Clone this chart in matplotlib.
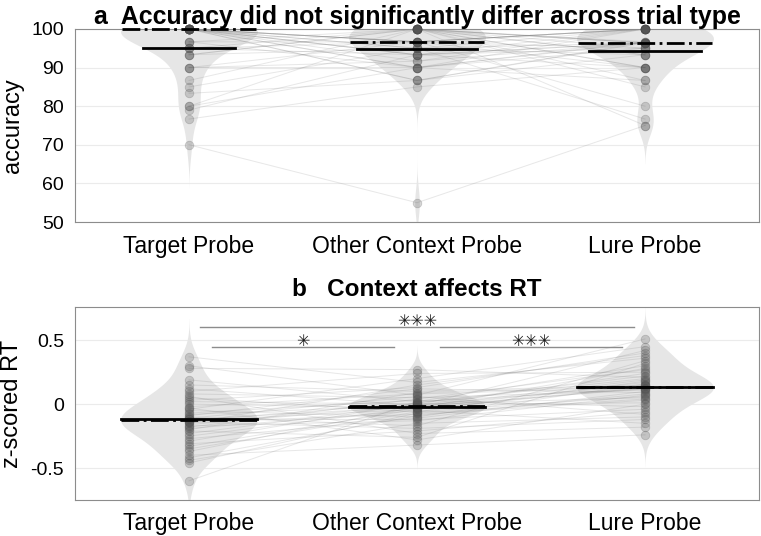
import numpy as np
import matplotlib
matplotlib.use("Agg")
import matplotlib.pyplot as plt

plt.rcParams['font.family'] = ['Liberation Sans', 'DejaVu Sans']

conditions = ["Target Probe", "Other Context Probe", "Lure Probe"]

# accuracy (%) per subject, same subject order in every list
acc_target = [100, 100, 100, 100, 100, 100, 100, 100, 100, 100, 100, 100,
              100, 100, 100, 100, 100, 100, 100, 100, 100, 100, 100, 100,
              100, 100, 100, 100, 96.67, 96.67, 96.67, 95, 95, 95, 93.33, 93.33,
              93.33, 90, 90, 90, 86.67, 85, 83.33, 80, 80, 79, 76.67, 70]
acc_other = [100, 100, 96.67, 100, 93.33, 100, 96.67, 90, 100, 95, 100, 96.67,
             86.67, 100, 93.33, 100, 96.67, 91.67, 100, 90, 100, 95, 96.67, 100,
             86.67, 100, 93.33, 100, 96.67, 100, 90, 100, 96.67, 93.33, 100, 95,
             100, 90, 96.67, 91.67, 100, 95, 86.67, 90, 100, 93.33, 85, 55]
acc_lure = [100, 96.4, 100, 100, 96.4, 90, 100, 96.67, 100, 96.4, 93.33, 100,
            96.4, 85, 100, 96.4, 80, 100, 95, 96.4, 100, 76.67, 100, 93.33,
            96.67, 100, 90, 75, 100, 96.4, 95, 100, 90, 96.4, 100, 93.33,
            86.67, 100, 95, 96.4, 90, 100, 93.33, 86.67, 96.67, 95, 90, 75]

# z-scored RT per subject
rt_target = [0.37, 0.30, 0.28, 0.19, 0.15, 0.12, 0.10, 0.08, 0.05, 0.03, 0.02, 0.00,
             -0.02, -0.04, -0.05, -0.07, -0.08, -0.09, -0.10, -0.11, -0.12, -0.13, -0.13, -0.14,
             -0.15, -0.16, -0.17, -0.18, -0.19, -0.20, -0.21, -0.23, -0.25, -0.27, -0.29, -0.31,
             -0.33, -0.35, -0.37, -0.40, -0.42, -0.44, -0.46, -0.03, -0.12, -0.14, 0.06, -0.60]
rt_other = [0.17, 0.07, 0.27, 0.02, 0.10, -0.01, 0.24, 0.05, -0.06, 0.13, 0.00, -0.03,
            0.08, 0.20, -0.10, 0.03, -0.01, 0.12, -0.17, 0.06, -0.02, -0.04, 0.01, -0.08,
            0.15, -0.01, -0.13, 0.04, -0.05, 0.09, -0.26, 0.00, -0.03, -0.11, 0.01, -0.21,
            -0.04, -0.06, -0.02, -0.32, -0.09, -0.15, -0.07, -0.28, -0.12, -0.19, -0.23, 0.02]
rt_lure = [0.36, 0.51, 0.21, 0.30, 0.15, 0.42, 0.25, 0.11, 0.18, 0.40, 0.05, 0.28,
           0.13, 0.45, 0.16, -0.02, 0.24, 0.09, 0.34, -0.08, 0.19, 0.13, 0.22, 0.03,
           0.38, 0.15, 0.07, 0.27, -0.15, 0.14, 0.32, 0.01, 0.17, 0.10, 0.20, -0.06,
           0.14, 0.06, 0.12, -0.24, 0.08, -0.10, 0.04, 0.00, -0.04, -0.12, -0.18, 0.12]

# significance bars for panel b: (from, to, y, label)
sig_bars = [(1.05, 2.95, 0.60, "\u2733\u2733\u2733"),
            (1.10, 1.90, 0.45, "\u2733"),
            (2.10, 2.90, 0.45, "\u2733\u2733\u2733")]


def kde(vals, grid):
    vals = np.asarray(vals, float)
    bw = 1.06 * vals.std(ddof=1) * len(vals) ** (-0.2)
    d = np.exp(-0.5 * ((grid[:, None] - vals[None, :]) / bw) ** 2).sum(axis=1)
    return d / (len(vals) * bw * np.sqrt(2 * np.pi)), bw


def violin_panel(ax, data):
    for i, vals in enumerate(data):
        x0 = i + 1
        vals = np.asarray(vals, float)
        _, bw = kde(vals, np.array([0.0]))
        grid = np.linspace(vals.min() - 3 * bw, vals.max() + 3 * bw, 400)
        dens, _ = kde(vals, grid)
        half = dens / dens.max() * 0.3
        ax.fill_betweenx(grid, x0 - half, x0 + half, color="#e6e6e6", lw=0, zorder=1)
        mean, med = vals.mean(), np.median(vals)
        wm = np.interp(mean, grid, half)
        wd = np.interp(med, grid, half)
        ax.plot([x0 - wd, x0 + wd], [med, med], color="black", lw=2, ls="-.",
                zorder=5, clip_on=False)
        ax.plot([x0 - wm, x0 + wm], [mean, mean], color="black", lw=2,
                zorder=5, clip_on=False)

    arr = np.array(data, float)
    xs = np.arange(1, len(data) + 1)
    for s in range(arr.shape[1]):
        ax.plot(xs, arr[:, s], color="0.45", alpha=0.17, lw=0.7, zorder=2)
    for i in range(arr.shape[0]):
        ax.scatter(np.full(arr.shape[1], xs[i]), arr[i], s=38, color="0.33",
                   alpha=0.24, edgecolors="0.3", linewidths=0.6, zorder=3,
                   clip_on=False)

    ax.set_xlim(0.5, 3.5)
    ax.set_xticks(xs)
    ax.set_xticklabels(conditions)
    ax.tick_params(axis="x", length=0, labelsize=16.5, pad=9)
    ax.tick_params(axis="y", length=0, labelsize=14, pad=8)
    ax.grid(axis="y", color="0.92", lw=0.8)
    ax.set_axisbelow(True)
    for sp in ax.spines.values():
        sp.set_color("0.55")
        sp.set_linewidth(0.8)


fig = plt.figure(figsize=(7.61, 5.36), dpi=100)
ax1 = fig.add_axes([0.0986, 0.5858, 0.8988, 0.3601])
ax2 = fig.add_axes([0.0986, 0.0672, 0.8988, 0.3600])

violin_panel(ax1, [acc_target, acc_other, acc_lure])
ax1.set_ylim(50, 100)
ax1.set_yticks([50, 60, 70, 80, 90, 100])
ax1.set_ylabel("accuracy", fontsize=17, labelpad=5)
ax1.set_title("a  Accuracy did not significantly differ across trial type",
              fontsize=17.9, fontweight="bold", pad=3)

violin_panel(ax2, [rt_target, rt_other, rt_lure])
ax2.set_ylim(-0.75, 0.76)
ax2.set_yticks([-0.5, 0, 0.5])
ax2.set_yticklabels(["-0.5", "0", "0.5"])
ax2.set_ylabel("z-scored RT", fontsize=17, labelpad=5)
ax2.set_title("b   Context affects RT", fontsize=17.5, fontweight="bold", pad=8)
for x1, x2, y, lab in sig_bars:
    ax2.plot([x1, x2], [y, y], color="0.55", lw=1, zorder=4)
    ax2.text((x1 + x2) / 2, y - 0.015, lab, ha="center", va="bottom",
             fontsize=11.5, family="DejaVu Sans", color="0.1", zorder=4)

fig.savefig("out.png", dpi=100)
